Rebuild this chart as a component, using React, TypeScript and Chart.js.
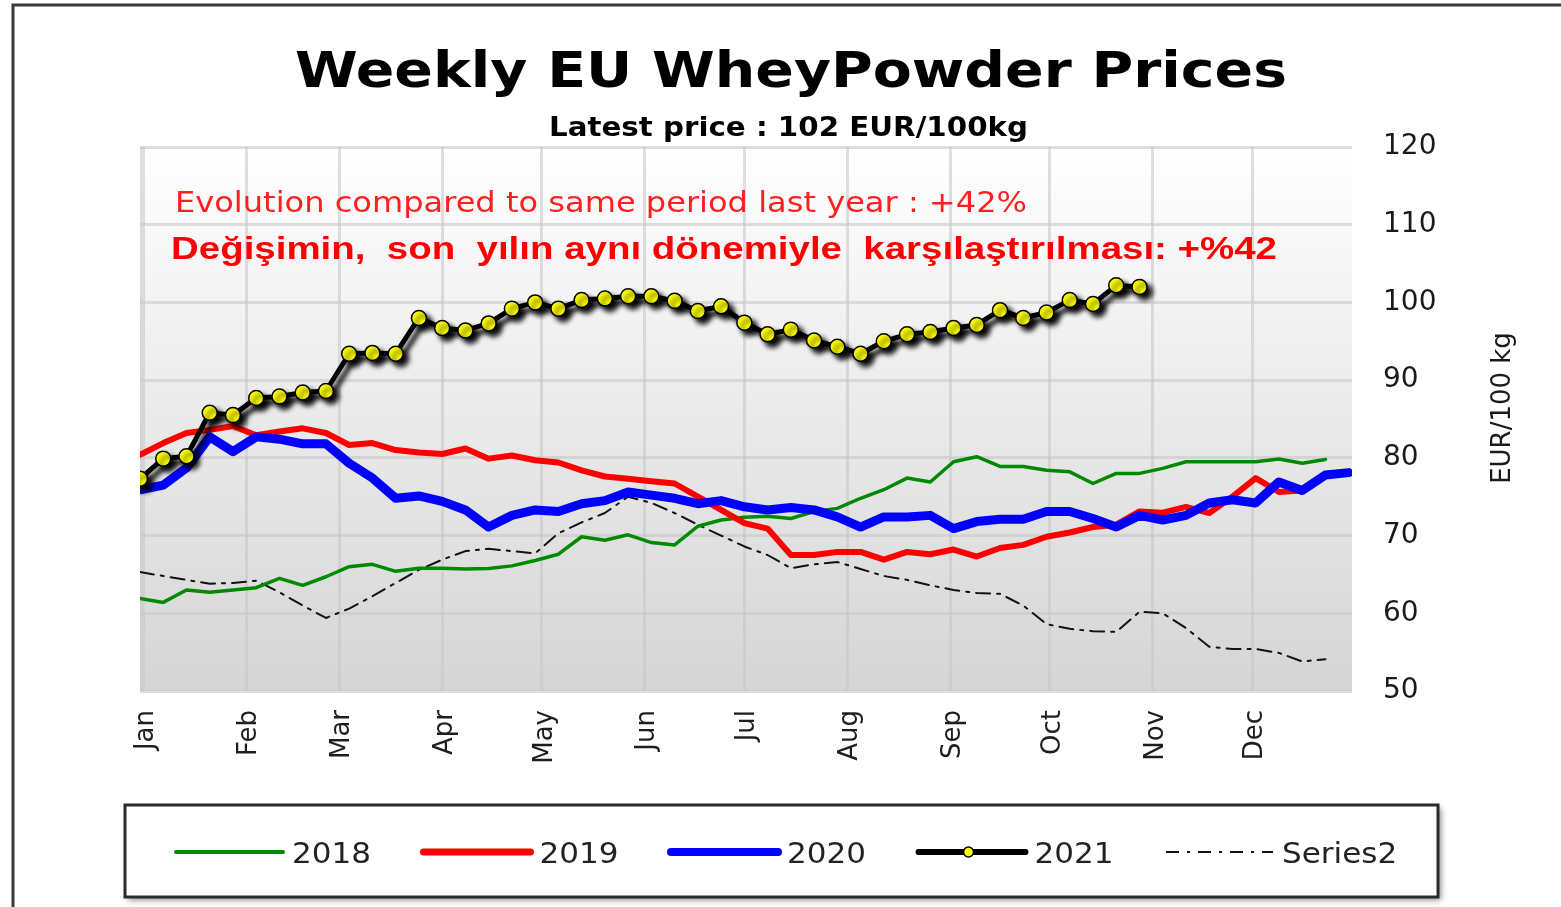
import React, { useEffect, useRef } from 'react';
import { Chart, registerables } from 'chart.js';

Chart.register(...registerables);

// ---------- data ----------
const MONTH_LABELS = ['Jan', 'Feb', 'Mar', 'Apr', 'May', 'Jun', 'Jul', 'Aug', 'Sep', 'Oct', 'Nov', 'Dec'];
// day-of-year (1-based) of the first day of each month
const MONTH_START_DAYS = [1, 32, 60, 91, 121, 152, 182, 213, 244, 274, 305, 335];
const DAYS_PER_WEEK = 7;
const X_MIN = 0;
const X_MAX = 365;
const Y_MIN = 50;
const Y_MAX = 120;
const Y_STEP = 10;

const SERIES_2018 = [
  61.9, 61.4, 63.0, 62.7, 63.0, 63.3, 64.5, 63.6, 64.7, 66.0,
  66.3, 65.4, 65.8, 65.8, 65.7, 65.75, 66.1, 66.8, 67.6, 69.85,
  69.4, 70.1, 69.1, 68.8, 71.2, 72.0, 72.35, 72.5, 72.2, 73.1,
  73.5, 74.8, 75.9, 77.4, 76.9, 79.5, 80.15, 78.9, 78.9, 78.4,
  78.2, 76.7, 78.0, 78.0, 78.65, 79.5, 79.5, 79.5, 79.5, 79.85,
  79.3, 79.8,
];
const SERIES_2019 = [
  80.4, 81.9, 83.2, 83.6, 84.1, 82.9, 83.4, 83.8, 83.2, 81.65,
  81.9, 81.0, 80.7, 80.5, 81.2, 79.9, 80.3, 79.7, 79.4, 78.4,
  77.6, 77.3, 77.0, 76.7, 75.0, 73.3, 71.6, 70.9, 67.5, 67.5,
  67.9, 67.9, 66.9, 67.9, 67.6, 68.2, 67.3, 68.4, 68.8, 69.85,
  70.4, 71.1, 71.4, 73.1, 72.95, 73.7, 72.9, 75.0, 77.4, 75.6,
  75.8,
];
const SERIES_2020 = [
  75.9, 76.5, 78.7, 82.7, 80.8, 82.7, 82.4, 81.8, 81.8, 79.3,
  77.4, 74.8, 75.1, 74.4, 73.3, 71.1, 72.6, 73.3, 73.1, 74.1,
  74.5, 75.6, 75.2, 74.8, 74.1, 74.5, 73.7, 73.3, 73.6, 73.3,
  72.4, 71.1, 72.4, 72.4, 72.6, 70.9, 71.8, 72.1, 72.1, 73.1,
  73.1, 72.2, 71.1, 72.6, 72.0, 72.6, 74.2, 74.6, 74.2, 76.9,
  75.8, 77.8, 78.1,
];
const SERIES_2021 = [
  77.3, 79.9, 80.2, 85.8, 85.5, 87.7, 87.9, 88.4, 88.6, 93.4,
  93.5, 93.4, 98.0, 96.7, 96.4, 97.3, 99.2, 100.0, 99.2, 100.3,
  100.5, 100.8, 100.8, 100.2, 98.9, 99.5, 97.4, 95.9, 96.5, 95.1,
  94.3, 93.4, 95.0, 95.9, 96.2, 96.7, 97.1, 99.0, 98.0, 98.7,
  100.3, 99.8, 102.2, 102.0,
];
const SERIES_2 = [
  65.3, 64.8, 64.3, 63.8, 63.9, 64.2, 62.7, 61.0, 59.4, 60.6,
  62.2, 63.9, 65.6, 66.9, 68.0, 68.3, 68.0, 67.7, 70.3, 71.7,
  72.9, 75.0, 74.2, 72.9, 71.4, 70.0, 68.6, 67.5, 65.8, 66.3,
  66.6, 65.7, 64.8, 64.3, 63.6, 63.0, 62.6, 62.5, 61.0, 58.6,
  58.0, 57.7, 57.6, 60.2, 60.0, 58.1, 55.7, 55.4, 55.4, 54.9,
  53.8, 54.1,
];

const TITLE = 'Weekly EU WheyPowder Prices';
const SUBTITLE = 'Latest price : 102 EUR/100kg';
const NOTE_EN = 'Evolution compared to same period last year : +42%';
const NOTE_TR = 'Değişimin,  son  yılın aynı dönemiyle  karşılaştırılması: +%42';
const Y_TITLE = 'EUR/100 kg';

const toPoints = (vals: number[]) => vals.map((v, i) => ({ x: i * DAYS_PER_WEEK, y: v }));

// ---------- helpers ----------
function drawFitted(
  ctx: CanvasRenderingContext2D,
  text: string,
  font: string,
  color: string,
  x: number,
  y: number,
  width: number
) {
  ctx.save();
  ctx.font = font;
  ctx.fillStyle = color;
  ctx.textAlign = 'left';
  ctx.textBaseline = 'alphabetic';
  const w = ctx.measureText(text).width;
  ctx.translate(x, y);
  ctx.scale(width / w, 1);
  ctx.fillText(text, 0, 0);
  ctx.restore();
}

const bgPlugin = {
  id: 'plotBg',
  beforeDraw(chart: any) {
    const { ctx, chartArea: a } = chart;
    ctx.save();
    const g = ctx.createLinearGradient(0, a.top, 0, a.bottom);
    g.addColorStop(0, '#ffffff');
    g.addColorStop(1, '#d5d5d5');
    ctx.fillStyle = g;
    ctx.fillRect(a.left, a.top, a.right - a.left, a.bottom - a.top);
    ctx.strokeStyle = 'rgba(200,200,200,0.6)';
    ctx.lineWidth = 2;
    ctx.beginPath();
    ctx.moveTo(a.left + 1, a.bottom);
    ctx.lineTo(a.left + 1, a.top);
    ctx.stroke();
    ctx.restore();
  },
};

const shadowPlugin = {
  id: 'shadow2021',
  beforeDatasetDraw(chart: any, args: any) {
    if (chart.data.datasets[args.index].label !== '2021') return;
    const ctx = chart.ctx;
    ctx.save();
    ctx.shadowColor = 'rgba(0,0,0,0.95)';
    ctx.shadowBlur = 5;
    ctx.shadowOffsetX = 5;
    ctx.shadowOffsetY = 5;
  },
  afterDatasetDraw(chart: any, args: any) {
    if (chart.data.datasets[args.index].label !== '2021') return;
    chart.ctx.restore();
  },
};

const decorPlugin = {
  id: 'decor',
  afterDraw(chart: any) {
    const ctx: CanvasRenderingContext2D = chart.ctx;
    const a = chart.chartArea;

    // outer frame
    ctx.save();
    ctx.strokeStyle = '#3a3a3a';
    ctx.lineWidth = 3;
    ctx.beginPath();
    ctx.moveTo(13, chart.height);
    ctx.lineTo(13, 5);
    ctx.lineTo(chart.width, 5);
    ctx.stroke();
    ctx.restore();

    // titles and notes
    drawFitted(ctx, TITLE, 'bold 49px "DejaVu Sans"', '#000', 295, 87, 992);
    drawFitted(ctx, SUBTITLE, 'bold 26px "DejaVu Sans"', '#000', 549, 136, 479);
    drawFitted(ctx, NOTE_EN, '29px "DejaVu Sans"', '#ff1f1f', 175, 212, 852);
    drawFitted(ctx, NOTE_TR, 'bold 32px "Liberation Sans"', '#ff0000', 171, 259, 1106);

    // y axis title (reads bottom to top)
    ctx.save();
    ctx.font = '26px "DejaVu Sans"';
    ctx.fillStyle = '#1a1a1a';
    ctx.textAlign = 'center';
    ctx.textBaseline = 'middle';
    ctx.translate(a.right + 151, 408);
    ctx.rotate(-Math.PI / 2);
    ctx.fillText(Y_TITLE, 0, 0);
    ctx.restore();

    // legend box
    const bx = 125, by = 805, bw = 1313, bh = 92;
    ctx.save();
    ctx.shadowColor = 'rgba(0,0,0,0.45)';
    ctx.shadowBlur = 6;
    ctx.shadowOffsetX = 3;
    ctx.shadowOffsetY = 3;
    ctx.fillStyle = '#ffffff';
    ctx.fillRect(bx, by, bw, bh);
    ctx.restore();
    ctx.save();
    ctx.strokeStyle = '#2b2b2b';
    ctx.lineWidth = 3;
    ctx.strokeRect(bx, by, bw, bh);
    ctx.restore();

    const legendWidths: Record<string, number> = { '2018': 4, '2019': 7, '2020': 8, '2021': 6, Series2: 2 };
    const ly = 852;
    chart.data.datasets.forEach((ds: any, i: number) => {
      const x0 = 176 + i * 247.5;
      ctx.save();
      ctx.strokeStyle = ds.borderColor;
      ctx.lineWidth = legendWidths[ds.label] ?? ds.borderWidth;
      ctx.lineCap = ds.borderDash ? 'butt' : 'round';
      if (ds.borderDash) ctx.setLineDash([13, 8, 3, 8]);
      ctx.beginPath();
      ctx.moveTo(x0, ly);
      ctx.lineTo(x0 + 107, ly);
      ctx.stroke();
      ctx.setLineDash([]);
      if (ds.pointRadius > 0) {
        ctx.beginPath();
        ctx.arc(x0 + 50, ly, 5, 0, Math.PI * 2);
        ctx.fillStyle = ds.pointBackgroundColor;
        ctx.fill();
        ctx.lineWidth = 1.5;
        ctx.strokeStyle = '#000';
        ctx.stroke();
      }
      ctx.font = '29px "DejaVu Sans"';
      ctx.fillStyle = '#222';
      ctx.textAlign = 'left';
      ctx.textBaseline = 'alphabetic';
      ctx.translate(x0 + 116, 863);
      ctx.scale(1.07, 1);
      ctx.fillText(ds.label, 0, 0);
      ctx.restore();
    });
  },
};

const GRID_COLOR = 'rgba(200,200,200,0.6)';

export default function App() {
  const ref = useRef<HTMLCanvasElement>(null);

  useEffect(() => {
    const canvas = ref.current;
    if (!canvas) return;
    const chart = new Chart(canvas, {
      type: 'line',
      data: {
        datasets: [
          {
            label: '2018',
            data: toPoints(SERIES_2018),
            borderColor: '#008a00',
            backgroundColor: '#008a00',
            borderWidth: 3.5,
            pointRadius: 0,
            order: 3,
          },
          {
            label: '2019',
            data: toPoints(SERIES_2019),
            borderColor: '#ff0000',
            backgroundColor: '#ff0000',
            borderWidth: 6,
            pointRadius: 0,
            order: 2,
          },
          {
            label: '2020',
            data: toPoints(SERIES_2020),
            borderColor: '#0000ff',
            backgroundColor: '#0000ff',
            borderWidth: 9,
            pointRadius: 0,
            order: 1,
          },
          {
            label: '2021',
            data: toPoints(SERIES_2021),
            borderColor: '#000000',
            backgroundColor: '#000000',
            borderWidth: 5,
            pointRadius: 7.5,
            pointBackgroundColor: '#ffff00',
            pointBorderColor: '#000000',
            pointBorderWidth: 1.5,
            order: 0,
          },
          {
            label: 'Series2',
            data: toPoints(SERIES_2),
            borderColor: '#111111',
            backgroundColor: '#111111',
            borderWidth: 2,
            borderDash: [14, 7, 3, 7],
            pointRadius: 0,
            order: 4,
          },
        ] as any,
      },
      options: {
        responsive: false,
        animation: false,
        devicePixelRatio: 1,
        events: [],
        elements: { line: { tension: 0, borderJoinStyle: 'round', borderCapStyle: 'round' } },
        layout: { padding: { left: 140, top: 147, right: 0, bottom: 0 } },
        plugins: {
          legend: { display: false },
          title: { display: false },
          tooltip: { enabled: false },
        },
        scales: {
          x: {
            type: 'linear',
            position: 'bottom',
            min: X_MIN,
            max: X_MAX,
            afterBuildTicks: (s: any) => {
              s.ticks = MONTH_START_DAYS.map((v) => ({ value: v }));
            },
            afterFit: (s: any) => {
              s.height = 216;
            },
            grid: { color: GRID_COLOR, lineWidth: 3, drawTicks: false },
            border: { display: false },
            ticks: {
              autoSkip: false,
              minRotation: 90,
              maxRotation: 90,
              padding: 19,
              labelOffset: 3,
              color: '#1e1e1e',
              font: { family: 'DejaVu Sans', size: 26 },
              callback: (_v: any, i: number) => MONTH_LABELS[i],
            },
          },
          y: {
            position: 'right',
            min: Y_MIN,
            max: Y_MAX,
            afterFit: (s: any) => {
              s.width = 209;
            },
            grid: { color: GRID_COLOR, lineWidth: 3, drawTicks: false },
            border: { display: false },
            ticks: {
              stepSize: Y_STEP,
              padding: 31,
              color: '#1a1a1a',
              font: { family: 'DejaVu Sans', size: 28 },
            },
          },
        },
      } as any,
      plugins: [bgPlugin, shadowPlugin, decorPlugin],
    });
    return () => chart.destroy();
  }, []);

  return (
    <div style={{ position: 'absolute', left: 0, top: 0, width: 1561, height: 907, background: '#fff' }}>
      <canvas ref={ref} width={1561} height={907} style={{ display: 'block' }} />
    </div>
  );
}
